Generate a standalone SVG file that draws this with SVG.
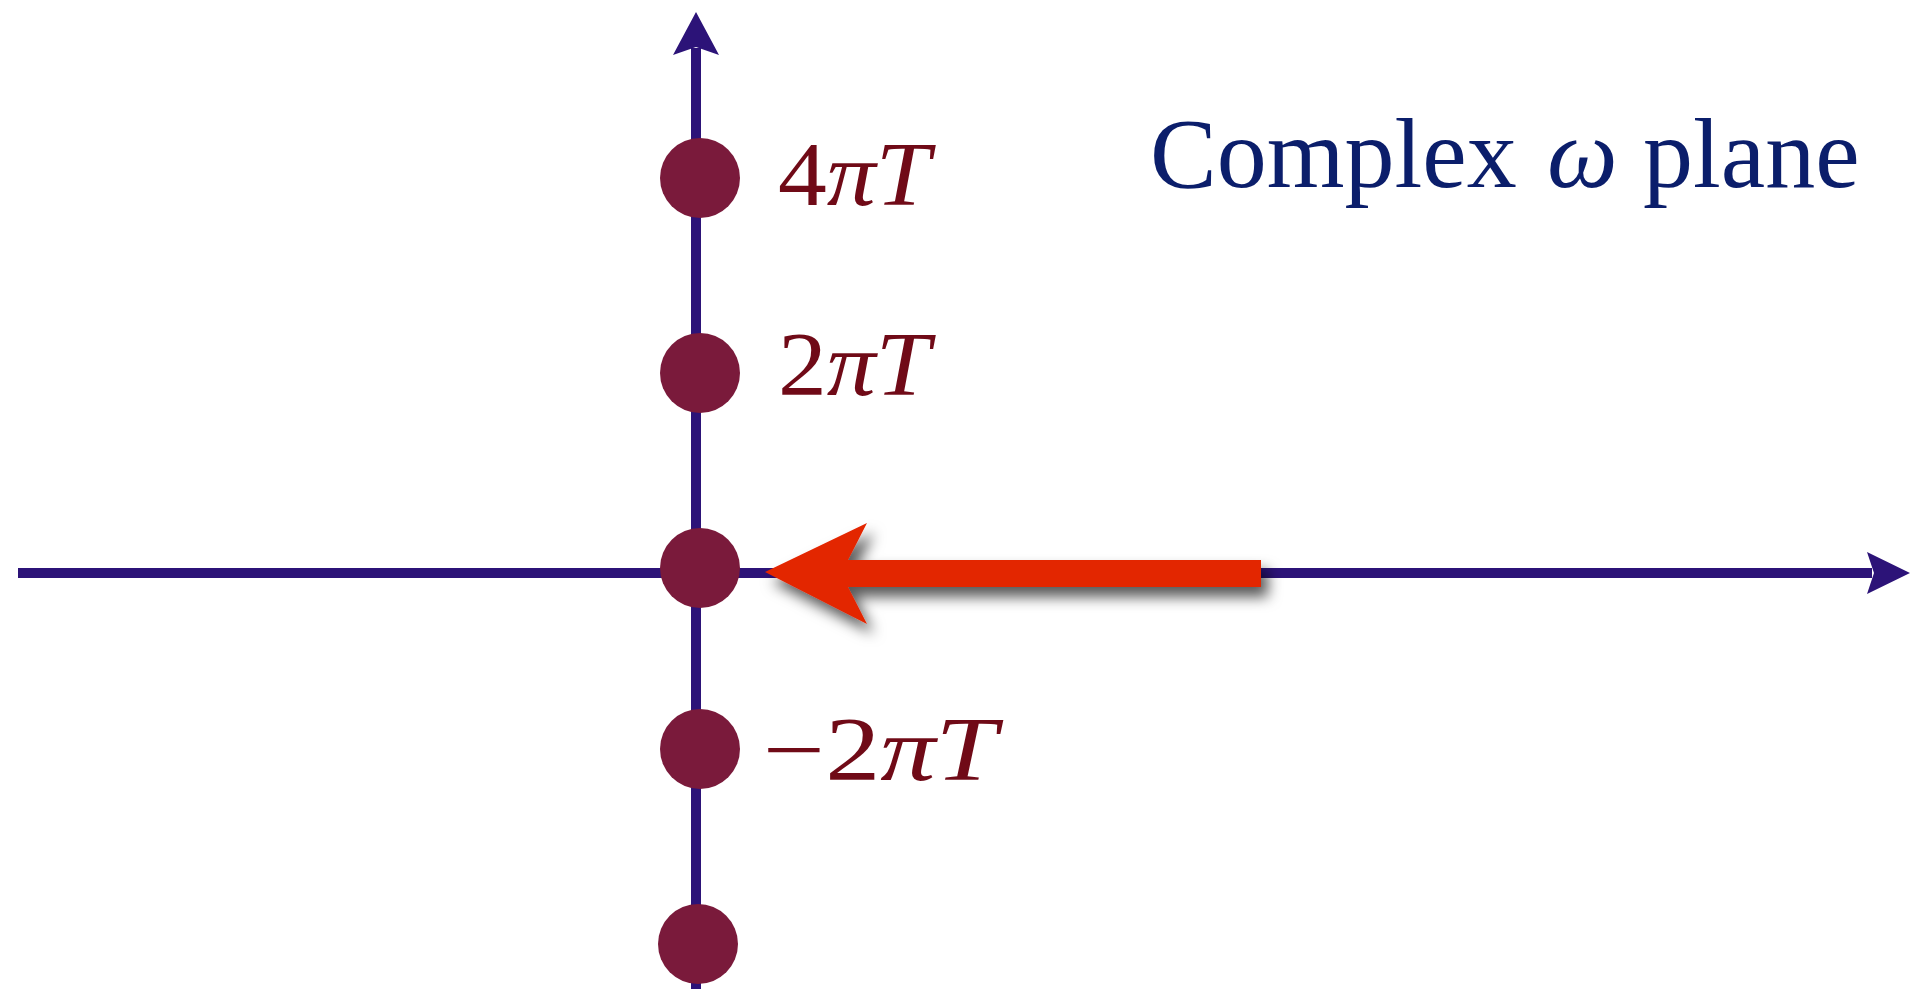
<svg xmlns="http://www.w3.org/2000/svg" width="1911" height="989" viewBox="0 0 1911 989">
  <defs>
    <filter id="shadow" x="-10%" y="-50%" width="130%" height="250%">
      <feDropShadow dx="7" dy="10" stdDeviation="7" flood-color="#000000" flood-opacity="0.65"/>
    </filter>
  </defs>
  <style>
    .axis { stroke: #2C1378; stroke-width: 10; fill: none; }
    .axhead { fill: #2C1378; }
    .pole { fill: #7A1A3B; }
    .lbl { font-family: "Liberation Serif", "DejaVu Serif", serif; font-size: 90px; fill: #700A17; }
    .it { font-style: italic; }
    .title { font-family: "Liberation Serif", "DejaVu Serif", serif; font-size: 100px; fill: #0B1E6B; }
  </style>
  <rect width="1911" height="989" fill="#ffffff"/>

  <g id="connectors">
    <line class="axis" x1="18" y1="573" x2="1872" y2="573"/>
    <polygon class="axhead" points="1910,573 1867,552 1874,573 1867,594"/>
    <line class="axis" x1="696" y1="989" x2="696" y2="48"/>
    <polygon class="axhead" points="696,12 673,55 696,47 719,55"/>
  </g>

  <g id="pole-4piT">
    <circle class="pole" cx="700" cy="178" r="40"/>
    <text class="lbl" x="778" y="205" textLength="152" lengthAdjust="spacingAndGlyphs">4<tspan class="it">πT</tspan></text>
  </g>
  <g id="pole-2piT">
    <circle class="pole" cx="700" cy="373" r="40"/>
    <text class="lbl" x="778" y="395" textLength="152" lengthAdjust="spacingAndGlyphs">2<tspan class="it">πT</tspan></text>
  </g>
  <g id="pole-0">
    <circle class="pole" cx="700" cy="568" r="40"/>
  </g>
  <g id="pole-m2piT">
    <circle class="pole" cx="700" cy="749" r="40"/>
    <text class="lbl" x="763" y="780" textLength="234" lengthAdjust="spacingAndGlyphs">−2<tspan class="it">πT</tspan></text>
  </g>
  <g id="pole-bottom">
    <circle class="pole" cx="698" cy="944" r="40"/>
  </g>

  <g id="red-arrow">
    <polygon fill="#E32500" filter="url(#shadow)" points="765,572 867,523 848,560 1261,560 1261,587 848,587 867,624"/>
  </g>

  <g id="title">
    <text class="title" x="1150" y="187">Complex</text>
    <text class="title" x="1547" y="187" font-style="italic">ω</text>
    <text class="title" x="1643" y="187">plane</text>
  </g>
</svg>
